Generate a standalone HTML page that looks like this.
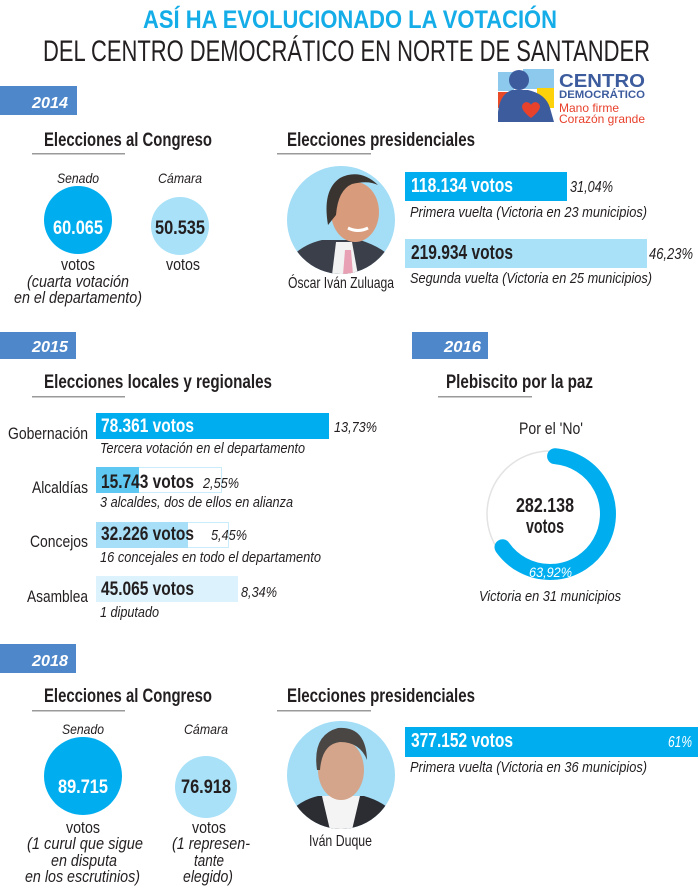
<!DOCTYPE html>
<html><head><meta charset="utf-8"><style>
html,body{margin:0;padding:0;background:#fff;width:700px;height:890px;overflow:hidden}
svg{display:block}
text{font-family:"Liberation Sans",sans-serif}
.b{font-weight:bold}
.i{font-style:italic}
</style></head><body>
<svg width="700" height="890" viewBox="0 0 700 890" xmlns="http://www.w3.org/2000/svg">
<defs>
<clipPath id="c1"><circle cx="341" cy="220" r="54"/></clipPath>
<clipPath id="c2"><circle cx="341" cy="775" r="54"/></clipPath>
<clipPath id="lg"><rect x="498" y="69" width="56" height="53"/></clipPath>
</defs>

<!-- Header -->
<text x="143" y="28" font-size="25" class="b" fill="#14ade8" textLength="414" lengthAdjust="spacingAndGlyphs">ASÍ HA EVOLUCIONADO LA VOTACIÓN</text>
<text x="43" y="61" font-size="30" fill="#231f20" textLength="607" lengthAdjust="spacingAndGlyphs">DEL CENTRO DEMOCRÁTICO EN NORTE DE SANTANDER</text>

<!-- Logo -->
<g clip-path="url(#lg)">
<rect x="498" y="69" width="56" height="53" fill="#fff"/>
<rect x="498" y="72" width="16" height="19" fill="#8cc9ec"/>
<rect x="523" y="69" width="31" height="20" fill="#8cc9ec"/>
<rect x="498" y="92" width="10" height="16" fill="#e84a27"/>
<rect x="537" y="88" width="17" height="20" fill="#fdd20a"/>
<circle cx="519" cy="80" r="10" fill="#3d5c9e"/>
<path d="M498 122 L498 112 Q500 94 512 90 L528 90 Q546 94 550 108 L554 122 Z" fill="#3d5c9e"/>
<path d="M531 118 C522 111 520 106 524 103 C527 101 530 103 531 105 C532 103 535 101 538 103 C542 106 540 111 531 118 Z" fill="#e8412c"/>
</g>
<text x="559" y="87" font-size="18" class="b" fill="#3d5c9e" textLength="86" lengthAdjust="spacingAndGlyphs">CENTRO</text>
<text x="559" y="98" font-size="11" class="b" fill="#3d5c9e" textLength="86" lengthAdjust="spacingAndGlyphs">DEMOCRÁTICO</text>
<text x="559" y="112" font-size="12" fill="#e8412c" textLength="60" lengthAdjust="spacingAndGlyphs">Mano firme</text>
<text x="559" y="123" font-size="12" fill="#e8412c" textLength="86" lengthAdjust="spacingAndGlyphs">Corazón grande</text>

<!-- 2014 -->
<rect x="0" y="86" width="77" height="29" fill="#4f88ca"/>
<text x="32" y="108" font-size="16" class="b i" fill="#fff" textLength="36" lengthAdjust="spacingAndGlyphs">2014</text>

<text x="44" y="146" font-size="19" class="b" fill="#231f20" textLength="168" lengthAdjust="spacingAndGlyphs">Elecciones al Congreso</text>
<rect x="32" y="153" width="93" height="1.5" fill="#9a9a9a"/>
<text x="287" y="146" font-size="19" class="b" fill="#231f20" textLength="188" lengthAdjust="spacingAndGlyphs">Elecciones presidenciales</text>
<rect x="277" y="153" width="94" height="1.5" fill="#9a9a9a"/>

<text x="57" y="183" font-size="14" class="i" fill="#231f20" textLength="42" lengthAdjust="spacingAndGlyphs">Senado</text>
<text x="158" y="183" font-size="14" class="i" fill="#231f20" textLength="44" lengthAdjust="spacingAndGlyphs">Cámara</text>
<circle cx="78" cy="220" r="34" fill="#00aeef"/>
<circle cx="180" cy="226" r="29" fill="#a8e1f8"/>
<text x="53" y="234" font-size="19" class="b" fill="#fff" textLength="50" lengthAdjust="spacingAndGlyphs">60.065</text>
<text x="155" y="234" font-size="19" class="b" fill="#231f20" textLength="50" lengthAdjust="spacingAndGlyphs">50.535</text>
<text x="61" y="270" font-size="17" fill="#231f20" textLength="34" lengthAdjust="spacingAndGlyphs">votos</text>
<text x="166" y="270" font-size="17" fill="#231f20" textLength="34" lengthAdjust="spacingAndGlyphs">votos</text>
<text x="27" y="287" font-size="17" class="i" fill="#231f20" textLength="102" lengthAdjust="spacingAndGlyphs">(cuarta votación</text>
<text x="14" y="303" font-size="17" class="i" fill="#231f20" textLength="128" lengthAdjust="spacingAndGlyphs">en el departamento)</text>

<!-- Zuluaga portrait -->
<circle cx="341" cy="220" r="54" fill="#a3ddf6"/>
<g clip-path="url(#c1)">
<path d="M287 262 Q300 245 322 240 L360 240 Q385 248 395 262 L395 280 L287 280 Z" fill="#3b3f4a"/>
<path d="M336 242 L352 242 L358 275 L332 275 Z" fill="#f2f2f2"/>
<path d="M345 250 L351 250 L353 275 L343 275 Z" fill="#e8a0b4"/>
<ellipse cx="355" cy="212" rx="24" ry="30" fill="#d89c7c"/>
<path d="M328 225 Q322 190 340 178 Q360 168 378 185 Q368 180 352 184 Q338 190 336 215 Z" fill="#3a3431"/>
<path d="M348 228 Q358 233 368 228" stroke="#fff" stroke-width="3" fill="none"/>
</g>
<text x="288" y="288" font-size="16" fill="#231f20" textLength="106" lengthAdjust="spacingAndGlyphs">Óscar Iván Zuluaga</text>

<rect x="405" y="172" width="162" height="29" fill="#00aeef"/>
<text x="411" y="192" font-size="20" class="b" fill="#fff" textLength="102" lengthAdjust="spacingAndGlyphs">118.134 votos</text>
<text x="570" y="192" font-size="16" class="i" fill="#231f20" textLength="43" lengthAdjust="spacingAndGlyphs">31,04%</text>
<text x="410" y="217" font-size="15" class="i" fill="#231f20" textLength="237" lengthAdjust="spacingAndGlyphs">Primera vuelta (Victoria en 23 municipios)</text>
<rect x="405" y="239" width="242" height="29" fill="#a8e1f8"/>
<text x="411" y="259" font-size="20" class="b" fill="#231f20" textLength="102" lengthAdjust="spacingAndGlyphs">219.934 votos</text>
<text x="649" y="259" font-size="16" class="i" fill="#231f20" textLength="44" lengthAdjust="spacingAndGlyphs">46,23%</text>
<text x="410" y="283" font-size="15" class="i" fill="#231f20" textLength="242" lengthAdjust="spacingAndGlyphs">Segunda vuelta (Victoria en 25 municipios)</text>

<!-- 2015 -->
<rect x="0" y="332" width="76" height="27" fill="#4f88ca"/>
<text x="32" y="352" font-size="16" class="b i" fill="#fff" textLength="36" lengthAdjust="spacingAndGlyphs">2015</text>
<text x="44" y="388" font-size="19" class="b" fill="#231f20" textLength="228" lengthAdjust="spacingAndGlyphs">Elecciones locales y regionales</text>
<rect x="32" y="396" width="93" height="1.5" fill="#9a9a9a"/>

<text x="8" y="439" font-size="17" fill="#231f20" textLength="80" lengthAdjust="spacingAndGlyphs">Gobernación</text>
<rect x="96" y="413" width="233" height="26" fill="#00aeef"/>
<text x="101" y="432" font-size="19" class="b" fill="#fff" textLength="93" lengthAdjust="spacingAndGlyphs">78.361 votos</text>
<text x="334" y="432" font-size="15" class="i" fill="#231f20" textLength="43" lengthAdjust="spacingAndGlyphs">13,73%</text>
<text x="100" y="453" font-size="15" class="i" fill="#231f20" textLength="205" lengthAdjust="spacingAndGlyphs">Tercera votación en el departamento</text>

<text x="32" y="493" font-size="17" fill="#231f20" textLength="56" lengthAdjust="spacingAndGlyphs">Alcaldías</text>
<rect x="96.5" y="467.5" width="125" height="25" fill="#fff" stroke="#c9ecfa" stroke-width="1"/>
<rect x="96" y="467" width="43" height="26" fill="#5ec8f2"/>
<text x="101" y="488" font-size="19" class="b" fill="#231f20" textLength="93" lengthAdjust="spacingAndGlyphs">15.743 votos</text>
<text x="203" y="488" font-size="15" class="i" fill="#231f20" textLength="36" lengthAdjust="spacingAndGlyphs">2,55%</text>
<text x="100" y="507" font-size="15" class="i" fill="#231f20" textLength="193" lengthAdjust="spacingAndGlyphs">3 alcaldes, dos de ellos en alianza</text>

<text x="30" y="547" font-size="17" fill="#231f20" textLength="58" lengthAdjust="spacingAndGlyphs">Concejos</text>
<rect x="96.5" y="522.5" width="132" height="25" fill="#fff" stroke="#c9ecfa" stroke-width="1"/>
<rect x="96" y="522" width="92" height="26" fill="#a6dff7"/>
<text x="101" y="540" font-size="19" class="b" fill="#231f20" textLength="93" lengthAdjust="spacingAndGlyphs">32.226 votos</text>
<text x="211" y="540" font-size="15" class="i" fill="#231f20" textLength="36" lengthAdjust="spacingAndGlyphs">5,45%</text>
<text x="100" y="562" font-size="15" class="i" fill="#231f20" textLength="221" lengthAdjust="spacingAndGlyphs">16 concejales en todo el departamento</text>

<text x="27" y="602" font-size="17" fill="#231f20" textLength="61" lengthAdjust="spacingAndGlyphs">Asamblea</text>
<rect x="96" y="576" width="142" height="26" fill="#dcf2fc"/>
<text x="101" y="595" font-size="19" class="b" fill="#231f20" textLength="93" lengthAdjust="spacingAndGlyphs">45.065 votos</text>
<text x="241" y="597" font-size="15" class="i" fill="#231f20" textLength="36" lengthAdjust="spacingAndGlyphs">8,34%</text>
<text x="100" y="617" font-size="15" class="i" fill="#231f20" textLength="59" lengthAdjust="spacingAndGlyphs">1 diputado</text>

<!-- 2016 -->
<rect x="412" y="332" width="76" height="27" fill="#4f88ca"/>
<text x="444" y="352" font-size="16" class="b i" fill="#fff" textLength="37" lengthAdjust="spacingAndGlyphs">2016</text>
<text x="446" y="388" font-size="19" class="b" fill="#231f20" textLength="147" lengthAdjust="spacingAndGlyphs">Plebiscito por la paz</text>
<rect x="438" y="396" width="94" height="1.5" fill="#9a9a9a"/>
<text x="519" y="434" font-size="17" fill="#231f20" textLength="64" lengthAdjust="spacingAndGlyphs">Por el 'No'</text>
<circle cx="550" cy="514" r="63" fill="none" stroke="#e3e3e3" stroke-width="1.5"/>
<path d="M555.1 456.2 A58 58 0 1 1 502.5 547.3" fill="none" stroke="#00aeef" stroke-width="16" stroke-linecap="round"/>
<text x="516" y="512" font-size="20" class="b" fill="#231f20" textLength="58" lengthAdjust="spacingAndGlyphs">282.138</text>
<text x="526" y="533" font-size="20" class="b" fill="#231f20" textLength="38" lengthAdjust="spacingAndGlyphs">votos</text>
<text x="529" y="577" font-size="14" class="i" fill="#fff" textLength="43" lengthAdjust="spacingAndGlyphs">63,92%</text>
<text x="479" y="601" font-size="15" class="i" fill="#231f20" textLength="142" lengthAdjust="spacingAndGlyphs">Victoria en 31 municipios</text>

<!-- 2018 -->
<rect x="0" y="644" width="76" height="29" fill="#4f88ca"/>
<text x="32" y="666" font-size="16" class="b i" fill="#fff" textLength="36" lengthAdjust="spacingAndGlyphs">2018</text>
<text x="44" y="702" font-size="19" class="b" fill="#231f20" textLength="168" lengthAdjust="spacingAndGlyphs">Elecciones al Congreso</text>
<rect x="32" y="710" width="93" height="1.5" fill="#9a9a9a"/>
<text x="287" y="702" font-size="19" class="b" fill="#231f20" textLength="188" lengthAdjust="spacingAndGlyphs">Elecciones presidenciales</text>
<rect x="277" y="710" width="94" height="1.5" fill="#9a9a9a"/>

<text x="62" y="734" font-size="14" class="i" fill="#231f20" textLength="42" lengthAdjust="spacingAndGlyphs">Senado</text>
<text x="184" y="734" font-size="14" class="i" fill="#231f20" textLength="44" lengthAdjust="spacingAndGlyphs">Cámara</text>
<circle cx="83" cy="776" r="39" fill="#00aeef"/>
<circle cx="206" cy="787" r="31" fill="#a8e1f8"/>
<text x="58" y="793" font-size="19" class="b" fill="#fff" textLength="50" lengthAdjust="spacingAndGlyphs">89.715</text>
<text x="181" y="793" font-size="19" class="b" fill="#231f20" textLength="50" lengthAdjust="spacingAndGlyphs">76.918</text>
<text x="66" y="833" font-size="17" fill="#231f20" textLength="34" lengthAdjust="spacingAndGlyphs">votos</text>
<text x="27" y="849" font-size="17" class="i" fill="#231f20" textLength="116" lengthAdjust="spacingAndGlyphs">(1 curul que sigue</text>
<text x="51" y="866" font-size="17" class="i" fill="#231f20" textLength="66" lengthAdjust="spacingAndGlyphs">en disputa</text>
<text x="25" y="882" font-size="17" class="i" fill="#231f20" textLength="115" lengthAdjust="spacingAndGlyphs">en los escrutinios)</text>
<text x="192" y="833" font-size="17" fill="#231f20" textLength="34" lengthAdjust="spacingAndGlyphs">votos</text>
<text x="172" y="849" font-size="17" class="i" fill="#231f20" textLength="78" lengthAdjust="spacingAndGlyphs">(1 represen-</text>
<text x="194" y="866" font-size="17" class="i" fill="#231f20" textLength="30" lengthAdjust="spacingAndGlyphs">tante</text>
<text x="183" y="882" font-size="17" class="i" fill="#231f20" textLength="50" lengthAdjust="spacingAndGlyphs">elegido)</text>

<!-- Duque portrait -->
<circle cx="341" cy="775" r="54" fill="#a3ddf6"/>
<g clip-path="url(#c2)">
<path d="M287 815 Q300 800 318 796 L364 796 Q385 802 395 815 L395 835 L287 835 Z" fill="#2c2d33"/>
<path d="M322 796 L360 796 L352 830 L330 830 Z" fill="#f4f4f4"/>
<ellipse cx="341" cy="770" rx="23" ry="30" fill="#d4a58a"/>
<path d="M317 770 Q312 735 338 728 Q366 726 367 760 Q360 742 340 742 Q322 744 320 770 Z" fill="#4a4644"/>
</g>
<text x="309" y="846" font-size="16" fill="#231f20" textLength="63" lengthAdjust="spacingAndGlyphs">Iván Duque</text>

<rect x="405" y="727" width="293" height="30" fill="#00aeef"/>
<text x="411" y="747" font-size="20" class="b" fill="#fff" textLength="102" lengthAdjust="spacingAndGlyphs">377.152 votos</text>
<text x="668" y="747" font-size="16" class="i" fill="#fff" textLength="24" lengthAdjust="spacingAndGlyphs">61%</text>
<text x="410" y="772" font-size="15" class="i" fill="#231f20" textLength="237" lengthAdjust="spacingAndGlyphs">Primera vuelta (Victoria en 36 municipios)</text>
</svg>
</body></html>
